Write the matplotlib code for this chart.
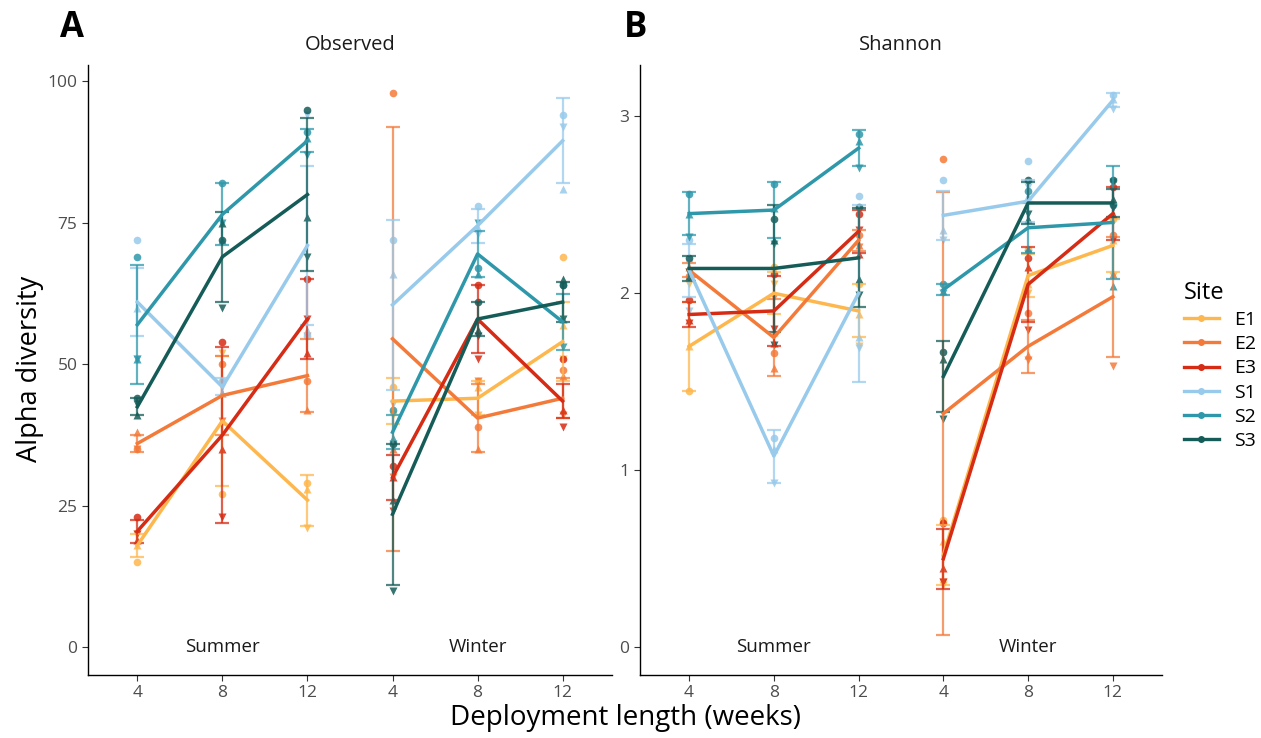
import numpy as np
import matplotlib.pyplot as plt

plt.rcParams['font.family'] = ['Open Sans', 'DejaVu Sans']

sites = ["E1", "E2", "E3", "S1", "S2", "S3"]
colors = ["#FEB74D", "#F47A3A", "#D62B14", "#98CAEC", "#2E98AA", "#155C58"]
tick_labels = ["4", "8", "12", "4", "8", "12"]
seasons = ["Summer", "Winter"]

# Observed richness: mean and standard error per site, weeks 4/8/12 summer then winter
obs_mean = {
    "E1": [18, 40, 26, 43.5, 44, 54],
    "E2": [36, 44.5, 48, 54.5, 40.5, 44],
    "E3": [20.5, 37.5, 58, 30, 58, 43.5],
    "S1": [61, 46, 71, 60.5, 74.5, 89.5],
    "S2": [57, 76.5, 89.5, 38, 69.5, 57.5],
    "S3": [42.5, 69, 80, 23.5, 58, 61],
}
obs_se = {
    "E1": [2, 11.5, 4.5, 4, 3, 7],
    "E2": [1.5, 7, 6.5, 37.5, 6, 3.5],
    "E3": [2, 15.5, 7, 4, 6, 3],
    "S1": [6, 1.5, 14, 15, 3, 7.5],
    "S2": [10.5, 5.5, 2, 3, 4, 5],
    "S3": [1.5, 8, 13.5, 12.5, 3, 3.5],
}
obs_pts = {
    "E1": [[15, 18, 20], [27, 40, 52], [29, 28, 21], [46, 42, 41], [47, 46, 41], [69, 57, 51]],
    "E2": [[35, 38, 35], [50, 45, 40], [47, 42, 55], [98, 35, 30], [39, 35, 47], [49, 48, 41]],
    "E3": [[23, 19, 20], [54, 35, 23], [65, 52, 58], [32, 30, 24], [64, 58, 51], [51, 42, 39]],
    "S1": [[72, 60, 51], [47, 45, 46], [55, 56, 94], [72, 66, 43], [78, 74, 73], [94, 81, 92]],
    "S2": [[69, 51, 51], [82, 72, 75], [91, 90, 87], [42, 37, 36], [67, 66, 75], [64, 58, 53]],
    "S3": [[44, 41, 43], [72, 75, 60], [95, 76, 69], [36, 26, 10], [61, 56, 55], [64, 65, 58]],
}

# Shannon index
sha_mean = {
    "E1": [1.70, 2.00, 1.90, 0.52, 2.10, 2.27],
    "E2": [2.13, 1.75, 2.30, 1.32, 1.70, 1.98],
    "E3": [1.88, 1.90, 2.35, 0.50, 2.05, 2.45],
    "S1": [2.13, 1.08, 2.00, 2.44, 2.52, 3.09],
    "S2": [2.45, 2.47, 2.82, 2.02, 2.37, 2.40],
    "S3": [2.14, 2.14, 2.20, 1.53, 2.51, 2.51],
}
sha_se = {
    "E1": [0.25, 0.12, 0.15, 0.17, 0.12, 0.15],
    "E2": [0.04, 0.22, 0.06, 1.25, 0.15, 0.34],
    "E3": [0.07, 0.2, 0.12, 0.17, 0.21, 0.15],
    "S1": [0.15, 0.15, 0.5, 0.14, 0.12, 0.04],
    "S2": [0.12, 0.16, 0.1, 0.03, 0.14, 0.32],
    "S3": [0.07, 0.36, 0.28, 0.2, 0.12, 0.08],
}
sha_pts = {
    "E1": [[1.45, 1.70, 2.05], [2.15, 1.78, 2.05], [2.05, 1.88, 1.70], [0.72, 0.60, 0.35], [2.25, 2.05, 2.00], [2.42, 2.30, 2.10]],
    "E2": [[2.10, 2.15, 2.12], [1.66, 1.58, 1.98], [2.33, 2.27, 2.26], [2.76, 0.72, 0.37], [1.89, 1.65, 1.62], [2.33, 2.11, 1.59]],
    "E3": [[1.96, 1.85, 1.83], [2.11, 1.72, 1.80], [2.45, 2.22, 2.36], [0.70, 0.45, 0.37], [2.20, 2.15, 1.79], [2.60, 2.45, 2.30]],
    "S1": [[2.30, 2.20, 1.90], [1.18, 1.12, 0.93], [2.55, 1.75, 1.69], [2.64, 2.36, 2.30], [2.75, 2.55, 2.60], [3.12, 3.10, 3.04]],
    "S2": [[2.56, 2.45, 2.32], [2.62, 2.48, 2.28], [2.90, 2.86, 2.71], [2.05, 2.01, 2.00], [2.58, 2.25, 2.22], [2.50, 2.04, 2.63]],
    "S3": [[2.20, 2.10, 2.12], [2.42, 2.30, 1.71], [2.49, 2.08, 1.99], [1.67, 1.63, 1.29], [2.64, 2.42, 2.45], [2.64, 2.53, 2.48]],
}

markers = ["o", "^", "v"]
x = np.arange(1, 7)


def draw_panel(ax, means, ses, pts, title, yticks, ylim):
    for site, col in zip(sites, colors):
        m = np.array(means[site])
        s = np.array(ses[site])
        for i in range(6):
            for k, v in enumerate(pts[site][i]):
                ax.plot(x[i], v, marker=markers[k], color=col, ms=5.5,
                        alpha=0.85, ls="none", mec="none", zorder=2)
        ax.errorbar(x, m, yerr=s, fmt="none", ecolor=col, elinewidth=1.6,
                    capsize=5, capthick=1.6, alpha=0.75, zorder=3)
        # summer and winter series are drawn as separate lines
        ax.plot(x[:3], m[:3], color=col, lw=2.5, zorder=4)
        ax.plot(x[3:], m[3:], color=col, lw=2.5, zorder=4)
    ax.set_xlim(0.42, 6.58)
    ax.set_ylim(*ylim)
    ax.set_xticks(x)
    ax.set_xticklabels(tick_labels)
    ax.set_yticks(yticks)
    ax.set_yticklabels([str(t) for t in yticks])
    ax.tick_params(colors="#333333", labelcolor="#4D4D4D", labelsize=12.5,
                   length=4, width=0.8)
    for sp in ["top", "right"]:
        ax.spines[sp].set_visible(False)
    for sp in ["left", "bottom"]:
        ax.spines[sp].set_linewidth(1.0)
    ax.text(2, 0, seasons[0], ha="center", va="center", fontsize=13.5, color="#1A1A1A")
    ax.text(5, 0, seasons[1], ha="center", va="center", fontsize=13.5, color="#1A1A1A")
    ax.set_title(title, fontsize=14.5, color="#1A1A1A", pad=11)


fig = plt.figure(figsize=(12.61, 7.38), dpi=100)
ax1 = fig.add_axes([0.0698, 0.0854, 0.4155, 0.8266])
ax2 = fig.add_axes([0.5075, 0.0854, 0.4140, 0.8266])

draw_panel(ax1, obs_mean, obs_se, obs_pts, "Observed", [0, 25, 50, 75, 100], (-4.9, 102.9))
draw_panel(ax2, sha_mean, sha_se, sha_pts, "Shannon", [0, 1, 2, 3], (-0.157, 3.29))

fig.text(0.057, 0.962, "A", fontsize=25, fontweight="bold", ha="center", va="center")
fig.text(0.504, 0.962, "B", fontsize=25, fontweight="bold", ha="center", va="center")
fig.text(0.024, 0.5, "Alpha diversity", rotation=90, fontsize=19.5, ha="center", va="center")
fig.text(0.496, 0.027, "Deployment length (weeks)", fontsize=20, ha="center", va="center")

handles = [plt.Line2D([], [], color=c, lw=2.4, marker="o", ms=4) for c in colors]
fig.legend(handles, sites, title="Site", loc="center left", bbox_to_anchor=(0.925, 0.505),
           frameon=False, fontsize=14, title_fontsize=17, handlelength=1.8,
           labelspacing=0.32, alignment="left")

fig.savefig("out.png", dpi=100)
